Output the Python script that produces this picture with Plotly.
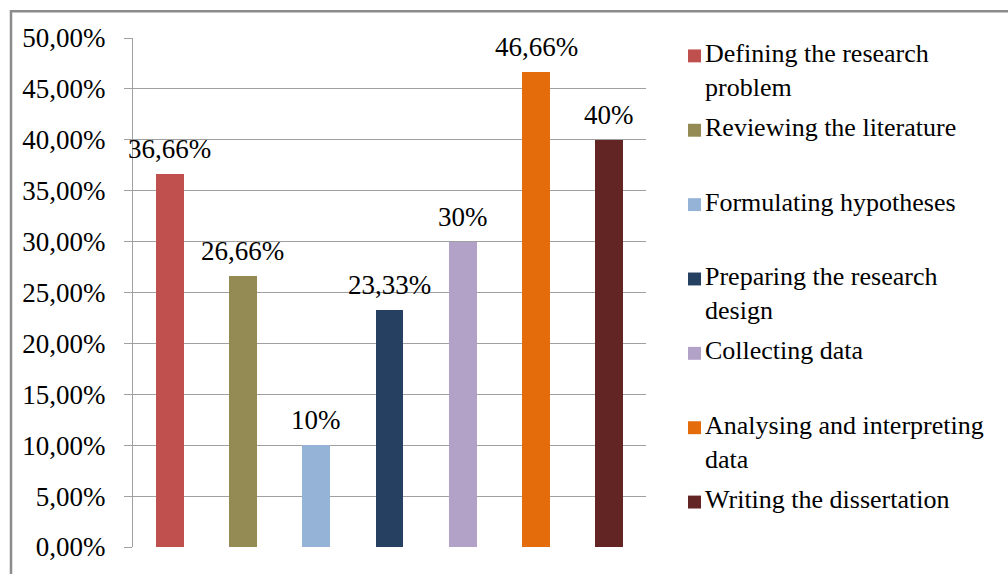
import plotly.graph_objects as go

# Stages of the research process and the share of respondents for each
stages = [
    "Defining the research problem",
    "Reviewing the literature",
    "Formulating hypotheses",
    "Preparing the research design",
    "Collecting data",
    "Analysing and interpreting data",
    "Writing the dissertation",
]
legend_labels = [
    "Defining the research<br>problem",
    "Reviewing the literature",
    "Formulating hypotheses",
    "Preparing the research<br>design",
    "Collecting data",
    "Analysing and interpreting<br>data",
    "Writing the dissertation",
]
shares = [36.66, 26.66, 10, 23.33, 30, 46.66, 40]
colors = ["#C0504D", "#948A54", "#95B3D7", "#254061", "#B3A2C7", "#E46C0A", "#632523"]
y_ticks = [0, 5, 10, 15, 20, 25, 30, 35, 40, 45, 50]

W, H = 1008, 574
L, R, T, B = 133, 646, 38, 550  # plot area in pixels


def px_x(p):
    return (p - L) / (R - L)


def px_y(p):
    return (B - p) / (B - T)


def pct_label(v):
    s = f"{v:.2f}".rstrip("0").rstrip(".")
    return s.replace(".", ",") + "%"


serif = "Liberation Serif, Times New Roman, serif"

fig = go.Figure()
for i, (name, val, col) in enumerate(zip(stages, shares, colors)):
    fig.add_trace(go.Bar(
        x=[i], y=[val], name=name, width=0.38,
        marker=dict(color=col, line=dict(width=0)),
        showlegend=False,
    ))
    fig.add_annotation(
        x=i, y=val, xref="x", yref="y", text=pct_label(val),
        showarrow=False, yanchor="bottom", yshift=8,
        font=dict(family=serif, size=27, color="black"),
    )

# Legend drawn as swatches plus labels
for i, (lab, col) in enumerate(zip(legend_labels, colors)):
    cy = 56 + 74.8 * i
    fig.add_shape(
        type="rect", xref="paper", yref="paper",
        x0=px_x(688), x1=px_x(701), y0=px_y(cy + 6.5), y1=px_y(cy - 6.5),
        fillcolor=col, line=dict(width=0),
    )
    fig.add_annotation(
        x=px_x(703), y=px_y(cy - 19), xref="paper", yref="paper",
        text=lab, showarrow=False, xanchor="left", yanchor="top", align="left",
        font=dict(family=serif, size=26, color="black"),
    )

# Outer frame of the chart
fig.add_shape(
    type="rect", xref="paper", yref="paper",
    x0=px_x(11), x1=px_x(1020), y0=px_y(590), y1=px_y(11),
    line=dict(color="#8c8c8c", width=2.5), fillcolor="rgba(0,0,0,0)",
)

fig.update_layout(
    width=W, height=H,
    margin=dict(l=L, r=W - R, t=T, b=H - B),
    paper_bgcolor="white", plot_bgcolor="white",
    barmode="overlay",
    bargap=0,
    showlegend=False,
    xaxis=dict(
        range=[-0.5, 6.5], showticklabels=False, showgrid=False,
        zeroline=False, showline=False, ticks="",
    ),
    yaxis=dict(
        range=[0, 50], tickvals=y_ticks,
        ticktext=[f"{v:.2f}".replace(".", ",") + "%" for v in y_ticks],
        showgrid=True, gridcolor="#a0a0a0", gridwidth=1,
        showline=True, linecolor="#a0a0a0", linewidth=1,
        ticks="outside", ticklen=8, tickcolor="#a0a0a0",
        zeroline=False,
        tickfont=dict(family=serif, size=27, color="black"),
        ticklabelstandoff=13,
    ),
)

fig.write_html("out.html")
